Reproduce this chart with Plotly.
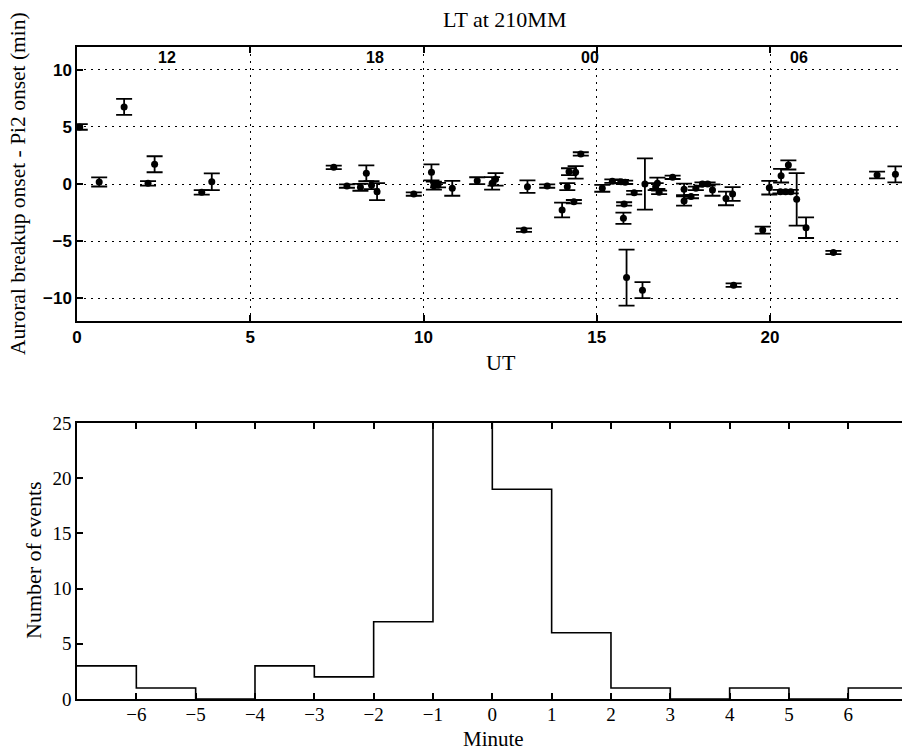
import plotly.graph_objects as go

# ---- Top panel data: UT (h), delay (min), error (min)
ut = [0.08, 0.64, 1.36, 2.05, 2.24, 3.60, 3.89,
      7.41, 7.79, 8.18, 8.35, 8.50, 8.66, 9.72, 10.23, 10.30, 10.42, 10.83,
      11.55, 11.98, 12.08, 12.90, 13.00, 13.57, 14.00, 14.15, 14.20, 14.34, 14.39, 14.54,
      15.16, 15.45, 15.70, 15.82, 15.79, 15.77, 15.86, 16.08, 16.32, 16.39, 16.70, 16.75, 16.80,
      17.19, 17.52, 17.52, 17.72, 17.86, 18.05, 18.20, 18.34, 18.73, 18.92, 18.95,
      19.79, 19.98, 20.32, 20.53, 20.30, 20.45, 20.60, 20.77, 21.04, 21.83, 23.09, 23.62]
delay = [5.0, 0.18, 6.75, 0.06, 1.73, -0.73, 0.20,
         1.46, -0.18, -0.29, 0.94, -0.10, -0.67, -0.88, 1.02, -0.15, -0.10, -0.38,
         0.29, 0.06, 0.41, -4.04, -0.23, -0.18, -2.28, -0.23, 1.08, -1.55, 1.02, 2.63,
         -0.38, 0.25, 0.20, 0.15, -1.75, -3.00, -8.20, -0.76, -9.30, 0.00, -0.23, 0.06, -0.73,
         0.59, -0.47, -1.49, -1.10, -0.38, 0.00, 0.00, -0.53, -1.26, -0.88, -8.86,
         -4.04, -0.32, 0.73, 1.67, -0.67, -0.67, -0.67, -1.34, -3.83, -6.00, 0.79, 0.85]
err = [0.25, 0.40, 0.70, 0.20, 0.70, 0.20, 0.73,
       0.15, 0.15, 0.30, 0.70, 0.35, 0.75, 0.15, 0.70, 0.35, 0.20, 0.65,
       0.30, 0.55, 0.55, 0.15, 0.55, 0.15, 0.65, 0.30, 0.30, 0.15, 0.55, 0.15,
       0.30, 0.15, 0.15, 0.15, 0.15, 0.50, 2.45, 0.15, 0.70, 2.25, 0.30, 0.50, 0.15,
       0.15, 0.50, 0.40, 0.15, 0.15, 0.15, 0.15, 0.50, 0.60, 0.60, 0.15,
       0.30, 0.60, 0.60, 0.40, 0.15, 0.15, 0.15, 2.30, 0.90, 0.15, 0.30, 0.70]

lt_labels = ["12", "18", "00", "06"]
lt_pos_ut = [2.6, 8.6, 14.8, 20.85]

# ---- Bottom panel histogram
bin_edges = [-7, -6, -5, -4, -3, -2, -1, 0, 1, 2, 3, 4, 5, 6, 7]
counts = [3, 1, 0, 3, 2, 7, 28, 19, 6, 1, 0, 1, 0, 1]

serif = "Liberation Serif"
sans = "Liberation Sans"

W, H = 902, 752
L = 77
PW = W - L

def px(xr):
    return (xr - L) / PW

def py(yr):
    return 1 - yr / H

fig = go.Figure()

fig.add_trace(go.Scatter(
    x=ut, y=delay, mode="markers",
    marker=dict(symbol="circle", size=7, color="black"),
    error_y=dict(type="data", array=err, visible=True, color="black",
                 thickness=1.8, width=8),
    xaxis="x", yaxis="y", showlegend=False, cliponaxis=True))

fig.add_trace(go.Scatter(
    x=bin_edges, y=counts + [counts[-1]], mode="lines",
    line=dict(shape="hv", color="black", width=1.6),
    xaxis="x2", yaxis="y2", showlegend=False))

axis_common = dict(showline=True, linecolor="black", linewidth=1.5,
                   ticks="inside", ticklen=6, tickcolor="black", tickwidth=1.5,
                   zeroline=False, automargin=False)

top_font = dict(family=sans, size=17, color="black", weight="bold")
bot_font = dict(family=serif, size=19, color="black")
grid = dict(showgrid=True, gridcolor="black", griddash="2px,5px", gridwidth=1.2)

fig.update_layout(
    template="none",
    width=W, height=H,
    margin=dict(l=L, r=0, t=0, b=0, pad=0, autoexpand=False),
    paper_bgcolor="white", plot_bgcolor="white",
    xaxis=dict(domain=[0, 1], range=[0, (902 - 77) / 34.65],
               anchor="y", tickvals=[0, 5, 10, 15, 20], mirror="ticks",
               tickfont=top_font, **grid, **axis_common),
    yaxis=dict(domain=[py(321), py(47)], range=[-12, 12], anchor="x",
               tickvals=[-10, -5, 0, 5, 10],
               tickfont=top_font, **grid, **axis_common),
    xaxis2=dict(domain=[0, 1], range=[-7, -7 + (902 - 77) / 59.33], anchor="y2",
                tickvals=[-6, -5, -4, -3, -2, -1, 0, 1, 2, 3, 4, 5, 6],
                mirror="ticks", showgrid=False, ticklabelstandoff=-3,
                tickfont=bot_font, **axis_common),
    yaxis2=dict(domain=[py(699), py(423)], range=[0, 25], anchor="x2",
                tickvals=[0, 5, 10, 15, 20, 25], showgrid=False,
                tickfont=bot_font, **axis_common),
)

ann = []
ann.append(dict(text="LT at 210MM", x=px(504), y=py(20), yanchor="middle",
                font=dict(family=serif, size=22, color="black")))
ann.append(dict(text="UT", x=px(501), y=py(362), yanchor="middle",
                font=dict(family=serif, size=22, color="black")))
ann.append(dict(text="Minute", x=px(493), y=0, yanchor="bottom",
                font=dict(family=serif, size=21, color="black")))
ann.append(dict(text="Auroral breakup onset - Pi2 onset (min)", x=px(18),
                y=py(184), textangle=-90, yanchor="middle",
                font=dict(family=serif, size=21.5, color="black")))
ann.append(dict(text="Number of events", x=px(33), yanchor="middle",
                y=py(560), textangle=-90,
                font=dict(family=serif, size=22, color="black")))
for a in ann:
    a.update(xref="paper", yref="paper", showarrow=False,
             xanchor="center", borderpad=0)
for lab, pos in zip(lt_labels, lt_pos_ut):
    ann.append(dict(text=lab, x=pos, y=11.05, xref="x", yref="y", showarrow=False,
                    xanchor="center", yanchor="middle",
                    font=dict(family=sans, size=16, color="black", weight="bold")))
fig.update_layout(annotations=ann)

reset_css = (
    "document.documentElement.style.margin='0';"
    "document.documentElement.style.padding='0';"
    "document.documentElement.style.overflow='hidden';"
    "document.body.style.margin='0';"
    "document.body.style.padding='0';"
    "document.body.style.overflow='hidden';"
)

fig.write_html("out.html", post_script=reset_css,
               config={"displayModeBar": False})
